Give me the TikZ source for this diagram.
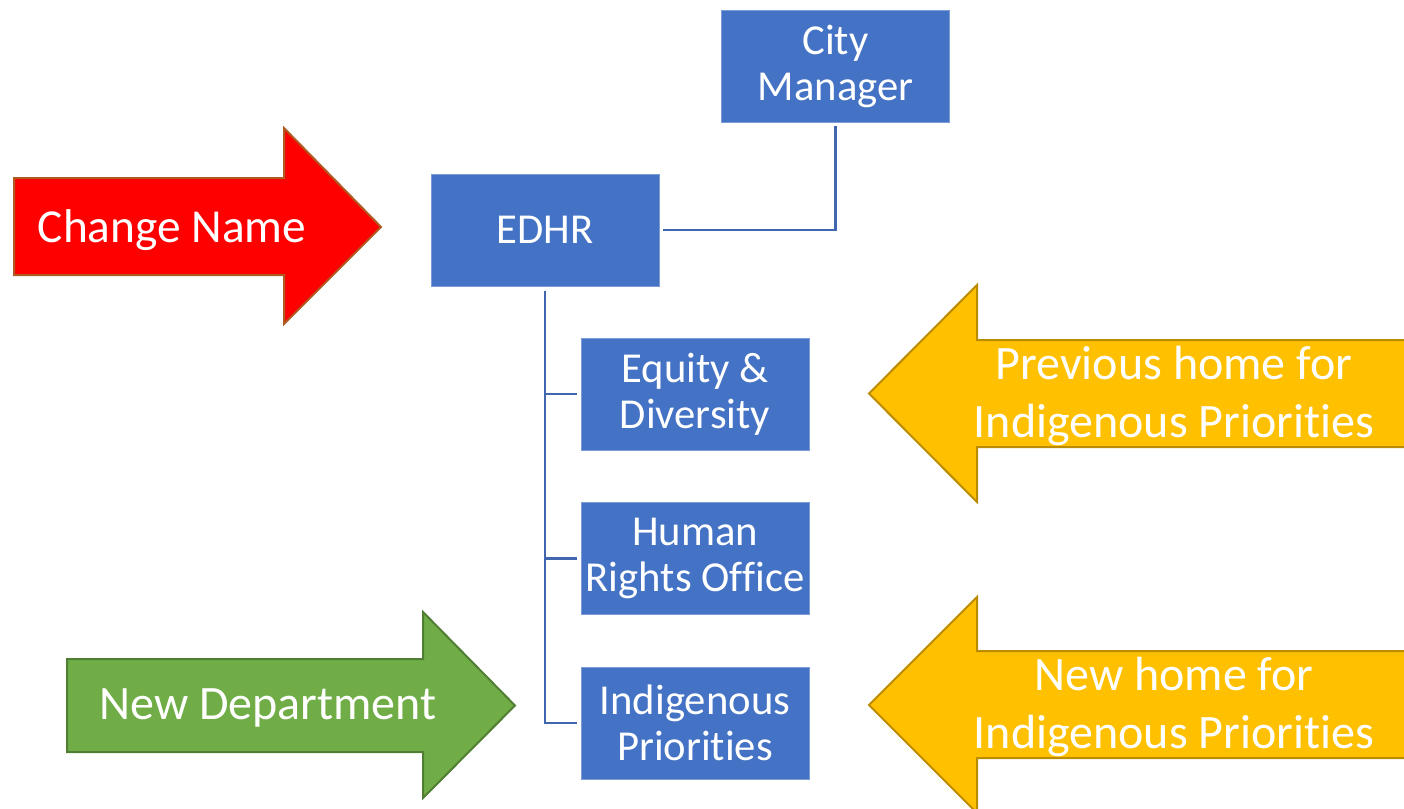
\documentclass[tikz,border=0pt]{standalone}
\usepackage{fontspec}
\setmainfont{Carlito}[Ligatures=NoCommon]
\definecolor{boxblue}{HTML}{4472C4}
\definecolor{boxedge}{HTML}{7C9CD8}
\definecolor{linkblue}{HTML}{3F66AE}
\definecolor{redfill}{HTML}{FF0000}
\definecolor{rededge}{HTML}{AE5A21}
\definecolor{yelfill}{HTML}{FFC000}
\definecolor{yeledge}{HTML}{BC8C00}
\definecolor{grnfill}{HTML}{70AD47}
\definecolor{grnedge}{HTML}{507E32}
\tikzset{
  orgbox/.style={rectangle, fill=boxblue, draw=boxedge, line width=0.75pt,
    minimum width=171pt, minimum height=84pt, inner sep=0pt, text=white,
    align=center, font=\fontsize{32pt}{34.5pt}\selectfont},
  link/.style={draw=linkblue, line width=2pt},
  arrowtext/.style={text=white, align=center, inner sep=0pt},
}
\begin{document}
\begin{tikzpicture}[x=0.75pt,y=-0.75pt]
\useasboundingbox (0,0) rectangle (1404,808);
\clip (0,0) rectangle (1404,808);
% red arrow
\filldraw[fill=redfill, draw=rededge, line width=1.5pt]
  (14,178) -- (284,178) -- (284,128) -- (381,227) -- (284,324) -- (284,275) -- (14,275) -- cycle;
\node[arrowtext, font=\fontsize{35.5pt}{40pt}\selectfont] (chg) at (172,230) {Change Name};
% green arrow
\filldraw[fill=grnfill, draw=grnedge, line width=1.5pt]
  (67,659) -- (423,659) -- (423,612) -- (515,705.5) -- (423,798) -- (423,752) -- (67,752) -- cycle;
\node[arrowtext, font=\fontsize{36pt}{40pt}\selectfont] (newdep) at (268,708) {New Department};
% yellow arrows
\filldraw[fill=yelfill, draw=yeledge, line width=1.5pt]
  (1420,340) -- (977,340) -- (977,285) -- (869,393.5) -- (977,502) -- (977,447) -- (1420,447) -- cycle;
\node[arrowtext, font=\fontsize{36pt}{44pt}\selectfont] (prev) at (1174,396) {Previous home for\\Indigenous Priorities};
\filldraw[fill=yelfill, draw=yeledge, line width=1.5pt]
  (1420,651) -- (977,651) -- (977,597) -- (869,705) -- (977,813) -- (977,758) -- (1420,758) -- cycle;
\node[arrowtext, font=\fontsize{36pt}{44pt}\selectfont] (newhome) at (1174,707) {New home for\\Indigenous Priorities};
% org boxes
\node[orgbox] (city) at (835.5,66) {City\\Manager};
\node[orgbox] (edhr) at (545,230) {EDHR};
\node[orgbox] (eq) at (695,394) {Equity \&\\Diversity};
\node[orgbox] (hro) at (695,558.5) {Human\\Rights Office};
\node[orgbox] (ind) at (695,723) {Indigenous\\Priorities};
% connectors
\draw[link] ([xshift=2.5pt]edhr.east) -| ([yshift=-2.5pt]city.south);
\draw[link] ([yshift=-3pt]edhr.south) |- ([xshift=-2.5pt]eq.west);
\draw[link] ([yshift=-3pt]edhr.south) |- ([xshift=-2.5pt]hro.west);
\draw[link] ([yshift=-3pt]edhr.south) |- ([xshift=-2.5pt]ind.west);
\end{tikzpicture}
\end{document}
